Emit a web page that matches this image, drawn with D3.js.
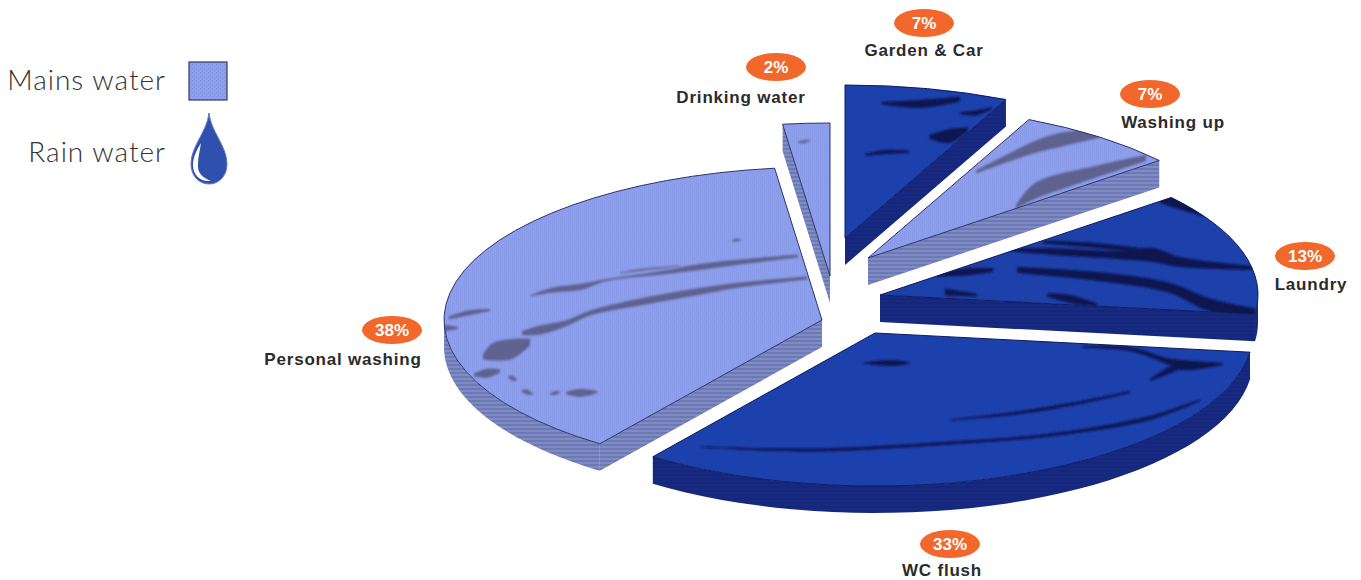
<!DOCTYPE html>
<html>
<head>
<meta charset="utf-8">
<script src="https://cdn.jsdelivr.net/npm/d3@7"></script>
<style>
  html, body { margin: 0; padding: 0; background: #fff; }
  svg { display: block; }
  .name { font: bold 17px "Liberation Sans", Arial, sans-serif; letter-spacing: 0.8px; fill: #2b2b2b; text-anchor: middle; }
  .pct { font: bold 17px "Liberation Sans", Arial, sans-serif; fill: #fff; text-anchor: middle; }
  .legend { font: 300 28px Lato, "Noto Sans", sans-serif; letter-spacing: 1px; fill: #333; text-anchor: end; }
</style>
</head>
<body>
<svg width="1361" height="580"></svg>
<script>
const categories = ["Personal washing", "Drinking water", "Garden & Car", "Washing up", "Laundry", "WC flush"];
const shares = [38, 2, 7, 7, 13, 33];
const sources = ["mains", "mains", "rain", "mains", "rain", "rain"];
const legendNames = ["Mains water", "Rain water"];

// layout, one entry per slice
const apexes = [[822, 320], [830, 276], [845, 238], [868, 258], [880, 295], [875, 333]];
const pillAt = [[392, 330], [776, 67], [924, 23], [1150, 94], [1305, 256], [950, 544]];
const nameAt = [[343, 359], [741, 97], [924, 50], [1173, 122], [1311, 284], [942, 570]];

const rx = 378, ry = 153, depth = 27;
const rad = Math.PI / 180;

const colours = {
  mains: { top: "url(#mainsTop)", side: "url(#mainsSide)", streak: "#5d628f" },
  rain: { top: "url(#rainTop)", side: "url(#rainSide)", streak: "#0a1550" }
};

const svg = d3.select("svg");
const defs = svg.append("defs");

function dots(id, bg, dot) {
  const p = defs.append("pattern").attr("id", id).attr("width", 4).attr("height", 4)
    .attr("patternUnits", "userSpaceOnUse");
  p.append("rect").attr("width", 4).attr("height", 4).attr("fill", bg);
  p.append("rect").attr("x", 0).attr("y", 0).attr("width", 1.2).attr("height", 1.2).attr("fill", dot);
  p.append("rect").attr("x", 2).attr("y", 2).attr("width", 1.2).attr("height", 1.2).attr("fill", dot);
}
function stripes(id, a, b) {
  const p = defs.append("pattern").attr("id", id).attr("width", 4).attr("height", 4)
    .attr("patternUnits", "userSpaceOnUse");
  p.append("rect").attr("width", 4).attr("height", 4).attr("fill", a);
  p.append("rect").attr("y", 2).attr("width", 4).attr("height", 2).attr("fill", b);
}
dots("mainsTop", "#8fa0ee", "#7f8fde");
dots("rainTop", "#1f42ae", "#1b3b9e");
stripes("mainsSide", "#6d79b2", "#7f8bc4");
stripes("rainSide", "#162c84", "#132678");

defs.append("filter").attr("id", "soft").attr("x", "-5%").attr("y", "-5%").attr("width", "110%").attr("height", "110%")
  .append("feGaussianBlur").attr("stdDeviation", 0.4);
defs.append("filter").attr("id", "smudge").attr("x", "-20%").attr("y", "-40%").attr("width", "140%").attr("height", "180%")
  .append("feGaussianBlur").attr("stdDeviation", 1);

const slices = d3.pie().sort(null).value(d => d)
  .startAngle(216 * rad).endAngle(576 * rad)(shares);

const arc = d3.arc().innerRadius(0).outerRadius(rx);
const line = d3.line();

// point on the rim of a slice, for an angle measured clockwise from the top
function rim(apex, a) {
  return [apex[0] + rx * Math.sin(a), apex[1] - ry * Math.cos(a)];
}

function cutFace(apex, a) {
  const p = rim(apex, a);
  return line([apex, p, [p[0], p[1] + depth], [apex[0], apex[1] + depth]]) + "Z";
}

// outer wall, only where the rim faces the viewer
function rimWall(apex, a0, a1) {
  let out = "";
  [[90, 270], [450, 630]].forEach(r => {
    const s = Math.max(a0, r[0] * rad), e = Math.min(a1, r[1] * rad);
    if (e <= s) return;
    const angles = d3.range(0, 41).map(i => s + (e - s) * i / 40);
    const upper = angles.map(a => rim(apex, a));
    const lower = upper.map(p => [p[0], p[1] + depth]).reverse();
    out += line(upper.concat(lower)) + "Z";
  });
  return out;
}

slices.forEach((d, i) => {
  const apex = apexes[i], c = colours[sources[i]];
  const g = svg.append("g").attr("filter", "url(#soft)");

  // side walls: a cut face shows only if it turns towards the viewer
  if (Math.sin(d.startAngle) < -1e-6) {
    g.append("path").attr("d", cutFace(apex, d.startAngle)).attr("fill", c.side);
  }
  if (Math.sin(d.endAngle) > 1e-6) {
    g.append("path").attr("d", cutFace(apex, d.endAngle)).attr("fill", c.side);
  }
  g.append("path").attr("d", rimWall(apex, d.startAngle, d.endAngle)).attr("fill", c.side);

  const transform = `translate(${apex[0]},${apex[1]}) scale(1,${ry / rx})`;
  defs.append("clipPath").attr("id", "face" + i)
    .append("path").attr("d", arc(d)).attr("transform", transform);

  g.append("path").attr("d", arc(d)).attr("transform", transform).attr("fill", c.top);
  g.append("g").attr("class", "streaks").attr("clip-path", `url(#face${i})`);
  g.append("path").attr("d", arc(d)).attr("transform", transform)
    .attr("fill", "none").attr("stroke", sources[i] === "rain" ? "#0c1a5e" : "#2a3468")
    .attr("stroke-width", 1).attr("vector-effect", "non-scaling-stroke");
});

// surface smears on the top faces: slice index, then x, y, thickness along the smear
const smears = [
  [0, [[798,256,3],[740,262,5],[700,267,6],[667,272,4],[607,280,2],[580,287,6],[553,290,5],[530,296,1]]],
  [0, [[680,266,1],[640,270,2],[620,273,1]]],
  [0, [[807,278,3],[740,285,5],[690,293,7],[640,302,7],[590,313,5],[567,323,6],[540,330,9],[522,333,4]]],
  [0, [[483,357,5],[492,352,17],[512,349,20],[530,342,7]]],
  [0, [[474,375,3],[488,373,9],[500,371,3]]],
  [0, [[449,318,3],[468,313,5],[490,310,2]]],
  [0, [[444,328,7],[458,328,2]]],
  [0, [[566,393,2],[580,393,8],[597,392,2]]],
  [0, [[522,391,2],[527,392,5],[533,394,1]]],
  [0, [[508,377,1],[512,378,5],[517,380,1]]],
  [0, [[550,394,1],[555,393,4],[560,392,1]]],
  [0, [[732,241,1],[736,240,3],[741,240,1]]],
  [1, [[798,142,1],[803,142,3],[810,140,1]]],
  [2, [[881,103,2],[920,104,8],[960,99,5]]],
  [2, [[929,137,3],[950,136,14],[968,129,3]]],
  [2, [[865,155,2],[885,152,4],[909,152,2]]],
  [2, [[960,113,2],[976,113,5],[992,108,2]]],
  [3, [[976,172,3],[1035,147,12],[1060,140,14],[1100,133,9]]],
  [3, [[1016,207,4],[1035,191,16],[1095,172,12],[1146,158,6]]],
  [4, [[1010,250,3],[1060,252,7],[1117,255,8],[1153,255,14],[1180,262,10],[1252,268,4]]],
  [4, [[1043,242,3],[1090,245,5],[1137,250,5]]],
  [4, [[1017,270,6],[1103,277,9],[1170,288,10],[1210,305,13],[1255,312,7]]],
  [4, [[937,275,3],[965,272,7],[993,270,4]]],
  [4, [[945,292,7],[977,295,3]]],
  [4, [[1047,295,3],[1070,299,8],[1097,305,3]]],
  [4, [[1160,197,12],[1185,205,12],[1205,215,4]]],
  [5, [[863,363,1],[892,363,6],[910,363,1]]],
  [5, [[950,420,1],[1017,413,3],[1083,402,3],[1130,392,2]]],
  [5, [[700,447,1],[817,450,3],[950,443,3],[1050,435,3],[1150,418,4],[1200,400,2]]],
  [5, [[1083,347,2],[1130,349,4],[1167,361,6],[1183,365,10],[1223,364,2]]],
  [5, [[1150,380,2],[1170,370,7],[1185,364,4]]]
];

const smearArea = d3.area().x(p => p[0]).y0(p => p[1] - p[2] / 2).y1(p => p[1] + p[2] / 2)
  .curve(d3.curveCatmullRom);

svg.selectAll("g.streaks").each(function(_, i) {
  d3.select(this).selectAll("path")
    .data(smears.filter(s => s[0] === i))
    .join("path")
    .attr("d", s => smearArea(s[1]))
    .attr("fill", colours[sources[i]].streak)
    .attr("filter", "url(#smudge)");
});

// percentage pills and names
const labels = svg.append("g").selectAll("g").data(categories).join("g");
labels.append("ellipse")
  .attr("cx", (d, i) => pillAt[i][0]).attr("cy", (d, i) => pillAt[i][1])
  .attr("rx", 30).attr("ry", 14).attr("fill", "#f2682c");
labels.append("text").attr("class", "pct")
  .attr("x", (d, i) => pillAt[i][0]).attr("y", (d, i) => pillAt[i][1] + 6)
  .text((d, i) => shares[i] + "%");
labels.append("text").attr("class", "name")
  .attr("x", (d, i) => nameAt[i][0]).attr("y", (d, i) => nameAt[i][1] + 6)
  .text(d => d);

// legend
const legend = svg.append("g");
legend.selectAll("text").data(legendNames).join("text").attr("class", "legend")
  .attr("x", 166).attr("y", (d, i) => i === 0 ? 90 : 162).text(d => d);
legend.append("rect").attr("x", 189).attr("y", 62).attr("width", 38).attr("height", 38)
  .attr("fill", "url(#mainsTop)").attr("stroke", "#333a5e").attr("stroke-width", 1.2);
legend.append("path")
  .attr("d", "M209,113 C207,132 191,146 191,164 C191,176 199,184 209,184 C219,184 227,176 227,164 C227,146 211,132 209,113Z")
  .attr("fill", "#2f50ac").attr("stroke", "#5f78c4").attr("stroke-width", 1);
legend.append("path")
  .attr("d", "M201,143 C196,151 193,158 193,165 C193,175 200,182 211,181 C203,178 197,173 198,164 C198,157 200,150 201,143Z")
  .attr("fill", "#fff");
</script>
</body>
</html>
